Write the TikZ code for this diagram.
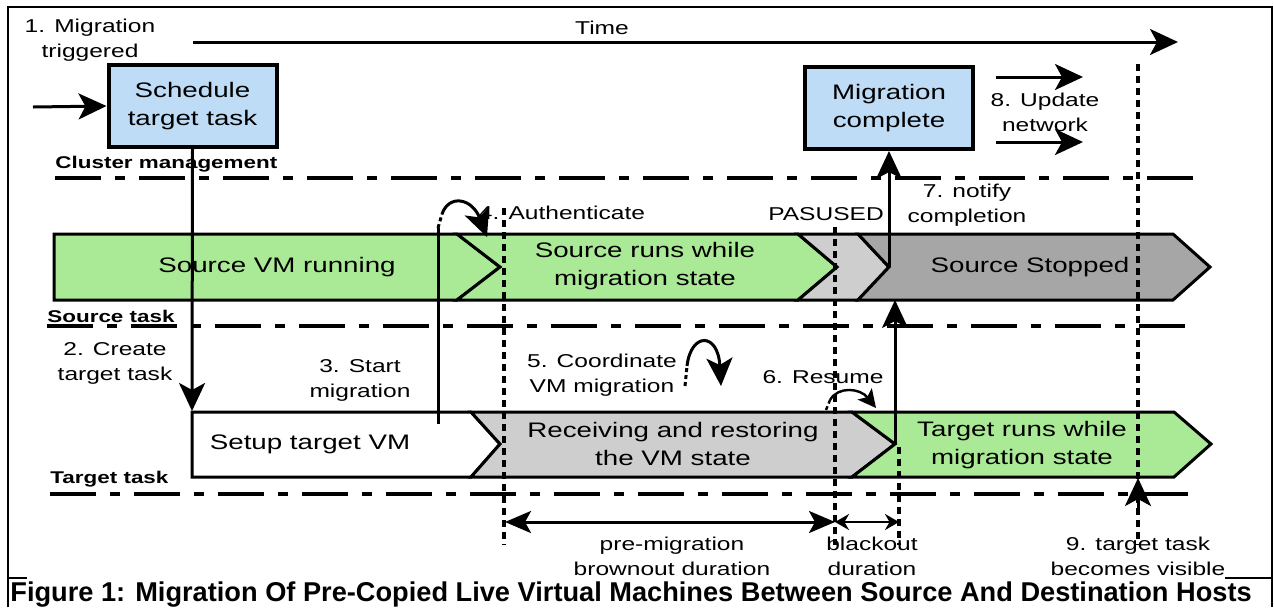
\documentclass[tikz,border=0pt]{standalone}
\usepackage{fontspec}
\setmainfont{Liberation Sans}[FakeStretch=1.32]
\newfontfamily\capfont{Liberation Sans}
\usetikzlibrary{arrows.meta, positioning}
\usepackage{xcolor}
\definecolor{paleblue}{RGB}{190,220,245}
\definecolor{rungreen}{RGB}{170,234,150}
\definecolor{pausegrey}{RGB}{206,206,206}
\definecolor{stopgrey}{RGB}{166,166,166}
\tikzset{taskbox/.style={draw=black, fill=paleblue, line width=2pt, minimum width=84pt, minimum height=41pt, inner sep=0pt, align=center, font=\fontsize{10.5}{14}\selectfont},phasebar/.style={draw=black, line width=1.5pt, line join=miter}}
\tikzset{lanesep/.style={line width=2pt, dash pattern=on 23pt off 7pt on 5pt off 7pt},marker/.style={line width=2pt, dash pattern=on 3.5pt off 2.5pt}}
\tikzset{flow/.style={line width=1.5pt, -{Stealth[length=14pt, width=13pt, inset=3.5pt]}},note/.style={align=center, inner sep=0pt, font=\fontsize{9.3}{12.5}\selectfont},phaselabel/.style={align=center, inner sep=0pt, font=\fontsize{10.5}{14}\selectfont},lanelabel/.style={anchor=west, inner sep=0pt, font=\bfseries\fontsize{8.5}{10}\selectfont}}

\begin{document}
\begin{tikzpicture}[
        x=0.5pt, y=-0.5pt,
        line join=miter,
        smallflow/.style={line width=1.2pt, {Stealth[length=7pt, width=8pt]}-{Stealth[length=7pt, width=8pt]}},
    ]
        \useasboundingbox (0,0) rectangle (1274,607);
        % Frame
        \draw[line width=1pt] (8,607) -- (8,7) -- (1272,7) -- (1272,607);
        \draw[line width=1pt] (8,578) -- (27,578);
        \draw[line width=1pt] (1225,578) -- (1272,578);
        % Lanes
        \draw[lanesep] (55,178) -- (1200,178);
        \draw[lanesep] (47,326) -- (1190,326);
        \draw[lanesep] (50,494) -- (1195,494);
        \node[lanelabel] (clusterlane) at (55,164) {Cluster management};
        \node[lanelabel] (sourcelane) at (47,316) {Source task};
        \node[lanelabel] (targetlane) at (50,479) {Target task};
        % Source task phases
        \filldraw[phasebar, fill=rungreen] (54,234) -- (457,234) -- (500,267) -- (457,300) -- (54,300) -- cycle;
        \filldraw[phasebar, fill=rungreen] (457,234) -- (798,234) -- (837,267) -- (798,300) -- (457,300) -- (500,267) -- cycle;
        \filldraw[phasebar, fill=pausegrey] (798,234) -- (858,234) -- (889,267) -- (858,300) -- (798,300) -- (837,267) -- cycle;
        \filldraw[phasebar, fill=stopgrey] (858,234) -- (1173,234) -- (1210,267) -- (1173,300) -- (858,300) -- (889,267) -- cycle;
        \coordinate (pausetip) at (889,267);
        \coordinate (stopbottom) at (895,300);
        % Target task phases
        \filldraw[phasebar, fill=white] (192,412) -- (471,412) -- (500,444) -- (471,477) -- (192,477) -- cycle;
        \filldraw[phasebar, fill=pausegrey] (471,412) -- (852,412) -- (895,444) -- (852,477) -- (471,477) -- (500,444) -- cycle;
        \filldraw[phasebar, fill=rungreen] (852,412) -- (1174,412) -- (1211,444) -- (1174,477) -- (852,477) -- (895,444) -- cycle;
        \coordinate (setuptop) at (192,411);
        \coordinate (recvtip) at (895,444);
        \node[phaselabel] (srcrun) at (277,267) {Source VM running};
        \node[phaselabel] (srcmig) at (645,266) {Source runs while\\migration state};
        \node[phaselabel] (srcstop) at (1030,267) {Source Stopped};
        \node[phaselabel] (tgtsetup) at (310,444) {Setup target VM};
        \node[phaselabel] (tgtrecv) at (673,444) {Receiving and restoring\\the VM state};
        \node[phaselabel] (tgtrun) at (1022,445) {Target runs while\\migration state};
        % Markers
        \draw[marker] (504,208) -- (504,545);
        \draw[marker] (835,227) -- (835,545);
        \draw[marker] (899,447) -- (899,545);
        \draw[marker] (1138,64) -- (1138,545);
        % Cluster management
        \node[taskbox] (sched) at (192.5,106) {Schedule\\target task};
        \node[taskbox] (done) at (889,108) {Migration\\complete};
        \coordinate (trigger) at (33,107);
        \coordinate (tstart) at (193,42);
        \coordinate (tend) at (1178,42);
        \draw[flow] (tstart) -- (tend);
        \node[note] (time) at (602,28) {Time};
        \node[note] (trig) at (90,40) {1. Migration\\triggered};
        \draw[flow] (trigger) -- (sched.west);
        % Steps
        \draw[flow] (sched.south) -- (setuptop);
        \node[note] (create) at (115,363) {2. Create\\target task};
        \coordinate (startlow) at (438,424);
        \coordinate (starthigh) at (438,228);
        \draw[line width=1.5pt] (startlow) -- (starthigh);
        \node[note] (start) at (360,380) {3. Start\\migration};
        \draw[line width=1.5pt, dash pattern=on 2pt off 1.5pt] (starthigh) -- (442,214);
        \draw[flow] (442,214) .. controls (449,194) and (472,198) .. (487,237);
        \node[note] (auth) at (562,213) {4. Authenticate};
        \draw[line width=1.5pt, dash pattern=on 2pt off 1.5pt] (685,386) -- (687,366);
        \draw[flow] (687,366) .. controls (691,332) and (718,332) .. (721,386);
        \node[note] (coord) at (602,375) {5. Coordinate\\VM migration};
        \node[note] (resume) at (823,377) {6. Resume};
        \draw[line width=1.2pt, dash pattern=on 2pt off 1.5pt] (826,410) -- (830,400);
        \draw[line width=1.2pt, -{Stealth[length=9pt, width=9pt, inset=2pt]}] (830,400) .. controls (838,386) and (860,388) .. (876,408);
        \node[note] (paused) at (826,214) {PASUSED};
        \draw[flow] (pausetip) -- (done.south);
        \node[note] (notify) at (967,205) {7. notify\\completion};
        \draw[flow] (recvtip) -- (stopbottom);
        \coordinate (net1a) at (996,77);
        \coordinate (net1b) at (1083,77);
        \coordinate (net2a) at (996,142);
        \coordinate (net2b) at (1083,142);
        \draw[flow] (net1a) -- (net1b);
        \draw[flow] (net2a) -- (net2b);
        \node[note] (update) at (1045,112) {8. Update\\network};
        \coordinate (visfoot) at (1138,512);
        \coordinate (vistop) at (1138,478);
        \draw[flow] (visfoot) -- (vistop);
        \node[note] (visible) at (1138,556) {9. target task\\becomes visible};
        % Durations
        \coordinate (brownl) at (505,522);
        \coordinate (brownr) at (835,522);
        \coordinate (blackr) at (899,522);
        \draw[line width=1.5pt, {Stealth[length=13pt, width=11pt, inset=3pt]}-{Stealth[length=13pt, width=11pt, inset=3pt]}] (brownl) -- (brownr);
        \draw[smallflow] (brownr) -- (blackr);
        \node[note] (brownout) at (672,556) {pre-migration\\brownout duration};
        \node[note] (blackout) at (872,556) {blackout\\duration};
        % Caption
        \node[anchor=west, inner sep=0pt, font=\capfont\bfseries\fontsize{13.6}{16}\selectfont] (caption) at (10,595) {Figure 1: Migration Of Pre-Copied Live Virtual Machines Between Source And Destination Hosts};
    \end{tikzpicture}
\end{document}
